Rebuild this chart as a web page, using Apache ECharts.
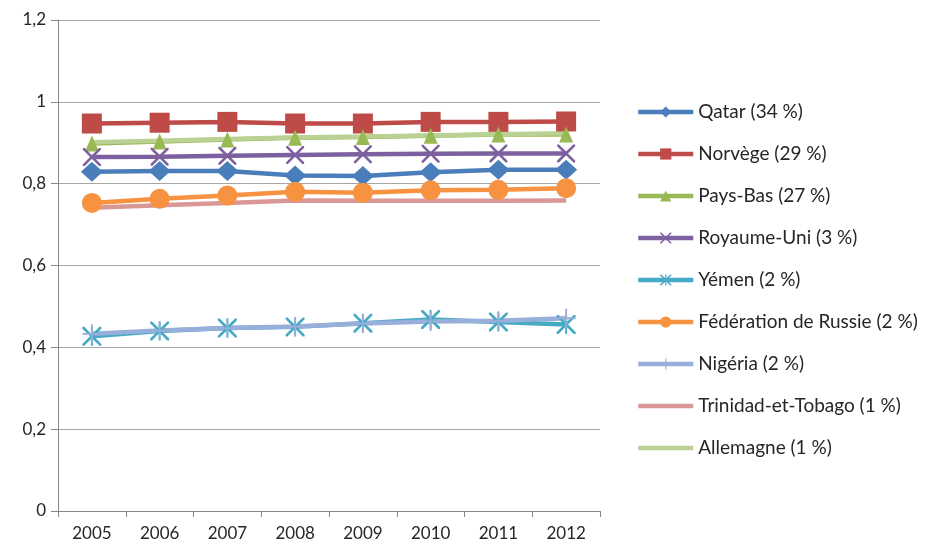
<!DOCTYPE html>
<html>
<head>
<meta charset="utf-8">
<script src="https://cdn.jsdelivr.net/npm/echarts@6/dist/echarts.min.js"></script>
<style>
  html, body { margin: 0; padding: 0; background: #fff; }
  #chart { width: 928px; height: 549px; }
</style>
</head>
<body>
<div id="chart"></div>
<script>
// données
const years = ["2005", "2006", "2007", "2008", "2009", "2010", "2011", "2012"];
const yTicks = [0, 0.2, 0.4, 0.6, 0.8, 1, 1.2];

const qatar = [0.829, 0.831, 0.831, 0.820, 0.819, 0.828, 0.834, 0.834];
const norvege = [0.947, 0.949, 0.951, 0.947, 0.947, 0.951, 0.951, 0.952];
const paysBas = [0.898, 0.903, 0.908, 0.912, 0.914, 0.917, 0.920, 0.920];
const royaumeUni = [0.865, 0.866, 0.868, 0.870, 0.872, 0.873, 0.874, 0.874];
const yemen = [0.427, 0.440, 0.447, 0.450, 0.459, 0.468, 0.462, 0.456];
const russie = [0.753, 0.763, 0.771, 0.780, 0.778, 0.784, 0.785, 0.789];
const nigeria = [0.433, 0.441, 0.447, 0.451, 0.458, 0.463, 0.465, 0.471];
const trinidad = [0.741, 0.747, 0.753, 0.759, 0.758, 0.758, 0.758, 0.759];
const allemagne = [0.901, 0.905, 0.909, 0.913, 0.915, 0.918, 0.921, 0.923];

const names = [
  "Qatar (34 %)", "Norvège (29 %)", "Pays-Bas (27 %)", "Royaume-Uni (3 %)",
  "Yémen (2 %)", "Fédération de Russie (2 %)", "Nigéria (2 %)",
  "Trinidad-et-Tobago (1 %)", "Allemagne (1 %)"
];

// symboles X, astérisque et plus
const xPath = "M0,0 L2,0 L10,8 L18,0 L20,0 L20,2 L12,10 L20,18 L20,20 L18,20 L10,12 L2,20 L0,20 L0,18 L8,10 L0,2 Z";
const starPath = "path://" + xPath + " M9,0 L11,0 L11,20 L9,20 Z";
const plusPath = "path://M9,0 L11,0 L11,9 L20,9 L20,11 L11,11 L11,20 L9,20 L9,11 L0,11 L0,9 L9,9 Z";
// simple trait pour la légende des séries sans marqueur
const barIcon = "path://M0,0 L55,0 L55,4.5 L0,4.5 Z";

function mk(name, data, color, symbol, size) {
  return {
    name: name,
    type: "line",
    data: data,
    symbol: symbol,
    symbolSize: size,
    showSymbol: symbol !== "none",
    lineStyle: { width: 4.5, color: color },
    itemStyle: { color: color },
    emphasis: { disabled: true },
    animation: false
  };
}

let legendData = names.map(function (n, i) {
  return i >= 7 ? { name: n, icon: barIcon } : { name: n };
});

let el = document.getElementById("chart");
let myChart = echarts.init(el);

let option = {
  textStyle: { fontFamily: "Lato" },
  grid: { left: 58, right: 328, top: 20, bottom: 38 },
  legend: {
    orient: "vertical",
    left: 631,
    top: 97,
    itemWidth: 55,
    itemHeight: 14,
    itemGap: 22,
    symbolKeepAspect: true,
    lineStyle: { width: 4.5 },
    textStyle: { fontSize: 19, color: "#262626", fontFamily: "Lato", lineHeight: 20 },
    data: legendData
  },
  xAxis: {
    type: "category",
    data: years,
    boundaryGap: true,
    axisLine: { lineStyle: { color: "#868686", width: 1 } },
    axisTick: { show: true, interval: 0, length: 6, lineStyle: { color: "#868686" } },
    axisLabel: { fontSize: 17, color: "#262626", margin: 14 },
    splitLine: { show: false }
  },
  yAxis: {
    type: "value",
    min: yTicks[0],
    max: yTicks[yTicks.length - 1],
    interval: 0.2,
    axisLine: { show: true, lineStyle: { color: "#868686", width: 1 } },
    axisTick: { show: true, length: 7, lineStyle: { color: "#868686" } },
    axisLabel: {
      fontSize: 17, color: "#262626", margin: 12,
      formatter: function (v) { return String(+v.toFixed(1)).replace(".", ","); }
    },
    splitLine: { lineStyle: { color: "#A6A6A6", width: 1 } }
  },
  series: [
    mk(names[0], qatar, "#4A7EBB", "diamond", [22, 20]),
    mk(names[1], norvege, "#BE4B48", "rect", 20),
    mk(names[2], paysBas, "#98B954", "triangle", [14, 16]),
    mk(names[3], royaumeUni, "#7D60A0", "path://" + xPath, 18),
    mk(names[4], yemen, "#46AAC5", starPath, 19),
    mk(names[5], russie, "#F69240", "circle", 20),
    mk(names[6], nigeria, "#98AFDB", plusPath, 19),
    mk(names[7], trinidad, "#D99795", "none", 0),
    mk(names[8], allemagne, "#B9D193", "none", 0)
  ]
};
myChart.setOption(option);
</script>
</body>
</html>
